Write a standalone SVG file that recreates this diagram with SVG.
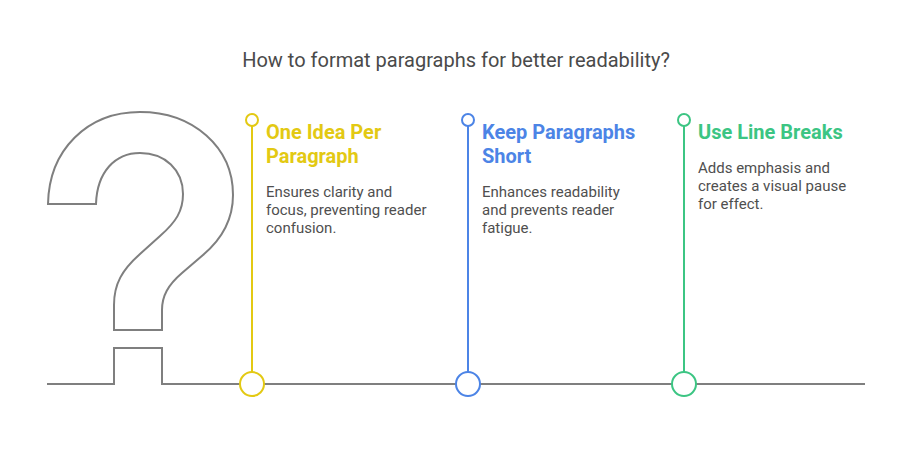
<svg xmlns="http://www.w3.org/2000/svg" width="912" height="466" viewBox="0 0 912 466">
<style>
text{font-family:Roboto,"Liberation Sans",sans-serif}
.t{font-size:20px;fill:#4a4a4a}
.h{font-size:20px;font-weight:700}
.b{font-size:15px;fill:#4f4f4f}
.g{fill:none;stroke:#7f7f7f;stroke-width:2}
.n{fill:#fff;stroke-width:2}
.l{stroke-width:2}
.y{stroke:#e3c913}.yt{fill:#e3c913}
.u{stroke:#4c84e6}.ut{fill:#4c84e6}
.e{stroke:#3cc583}.et{fill:#3cc583}
</style>
<rect width="912" height="466" fill="#fff"/>
<text class="t" x="456" y="67" text-anchor="middle">How to format paragraphs for better readability?</text>
<g id="question-mark">
<path class="g" d="M48 204H96C97 172 115 153 140 153C165 153 183 170 183 194C183 211 176 222 160 236L140 254C122 270 114 284 114 305V330H162V310C162 296 168 285 182 273L203 255C222 239 233 220 233 195C233 147 193 112 140 112C87 112 49 150 48 204Z"/>
</g>
<g id="connectors">
<path class="g" d="M47 384H114V348H162V384H865"/>
<line class="l y" x1="252" y1="126" x2="252" y2="372"/>
<line class="l u" x1="468" y1="126" x2="468" y2="372"/>
<line class="l e" x1="684" y1="126" x2="684" y2="372"/>
</g>
<g id="node-one-idea">
<circle class="n y" cx="252" cy="120" r="6"/>
<circle class="n y" cx="252" cy="384" r="12"/>
<text class="h yt" x="266" y="139">One Idea Per</text>
<text class="h yt" x="266" y="163">Paragraph</text>
<text class="b" x="266" y="197">Ensures clarity and</text>
<text class="b" x="266" y="215">focus, preventing reader</text>
<text class="b" x="266" y="233">confusion.</text>
</g>
<g id="node-keep-short">
<circle class="n u" cx="468" cy="120" r="6"/>
<circle class="n u" cx="468" cy="384" r="12"/>
<text class="h ut" x="482" y="139">Keep Paragraphs</text>
<text class="h ut" x="482" y="163">Short</text>
<text class="b" x="482" y="197">Enhances readability</text>
<text class="b" x="482" y="215">and prevents reader</text>
<text class="b" x="482" y="233">fatigue.</text>
</g>
<g id="node-line-breaks">
<circle class="n e" cx="684" cy="120" r="6"/>
<circle class="n e" cx="684" cy="384" r="12"/>
<text class="h et" x="698" y="139">Use Line Breaks</text>
<text class="b" x="698" y="173">Adds emphasis and</text>
<text class="b" x="698" y="191">creates a visual pause</text>
<text class="b" x="698" y="209">for effect.</text>
</g>
</svg>
